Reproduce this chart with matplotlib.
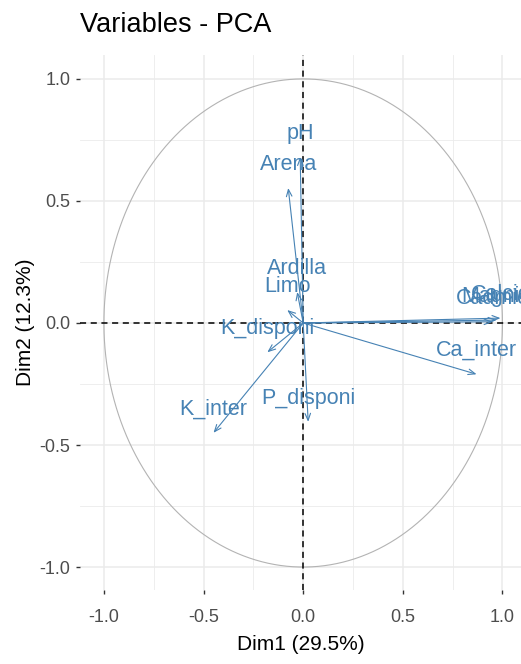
import numpy as np
import matplotlib.pyplot as plt

plt.rcParams['font.family'] = ['Liberation Sans', 'DejaVu Sans']

# variable coordinates (Dim1, Dim2)
variables = ['pH', 'Arena', 'Ardilla', 'Limo', 'K_disponi', 'K_inter',
             'P_disponi', 'Ca_inter', 'Calcio', 'Cadmio', 'Magnio']
dim1 = [-0.015, -0.075, -0.03, -0.08, -0.18, -0.45, 0.025, 0.87, 0.99, 0.95, 0.97]
dim2 = [0.68, 0.553, 0.127, 0.053, -0.12, -0.45, -0.405, -0.21, 0.02, 0.005, 0.012]

ticks = [-1.0, -0.5, 0.0, 0.5, 1.0]
minor_ticks = [-0.75, -0.25, 0.25, 0.75]
col = '#4682B4'

fig = plt.figure(figsize=(5.21, 6.64), dpi=100)
ax = fig.add_axes([80 / 521, 1 - 590 / 664, 441 / 521, 535 / 664])

ax.set_xlim(-1.12, 1.093)
ax.set_ylim(-1.094, 1.098)

# grid like theme_minimal
ax.set_xticks(ticks)
ax.set_yticks(ticks)
ax.set_xticks(minor_ticks, minor=True)
ax.set_yticks(minor_ticks, minor=True)
ax.grid(True, which='major', color='#EBEBEB', linewidth=1.1)
ax.grid(True, which='minor', color='#EBEBEB', linewidth=0.6)
ax.set_axisbelow(True)
for s in ax.spines.values():
    s.set_visible(False)
ax.tick_params(which='major', length=3, width=1, color='#333333',
               labelsize=13, labelcolor='#4D4D4D')
ax.tick_params(axis='x', pad=11)
ax.tick_params(axis='y', pad=4)
ax.tick_params(which='minor', length=0)
ax.set_xticklabels(['-1.0', '-0.5', '0.0', '0.5', '1.0'])
ax.set_yticklabels(['-1.0', '-0.5', '0.0', '0.5', '1.0'])

# correlation circle
t = np.linspace(0, 2 * np.pi, 400)
ax.plot(np.cos(t), np.sin(t), color='#B3B3B3', linewidth=0.8)

ax.axhline(0, color='black', linestyle=(0, (4, 3)), linewidth=1.1)
ax.axvline(0, color='black', linestyle=(0, (4, 3)), linewidth=1.1)

# arrows and labels
for name, x, y in zip(variables, dim1, dim2):
    ax.annotate('', xy=(x, y), xytext=(0, 0),
                arrowprops=dict(arrowstyle='->,head_length=0.5,head_width=0.2',
                                color=col, linewidth=0.8, shrinkA=0, shrinkB=0))
    ax.annotate(name, xy=(x, y), xytext=(0, 17), textcoords='offset points',
                ha='center', va='center', color=col, fontsize=15.5)

ax.set_xlabel('Dim1 (29.5%)', fontsize=15, labelpad=6)
ax.set_ylabel('Dim2 (12.3%)', fontsize=15, labelpad=3)
fig.text(80 / 521, 1 - 25 / 664, 'Variables - PCA', fontsize=19.5,
         ha='left', va='center')

fig.savefig('out.png', dpi=100)
